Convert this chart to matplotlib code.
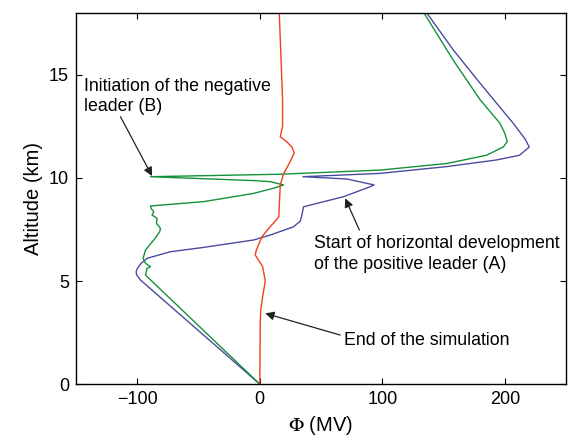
import matplotlib
matplotlib.use("Agg")
import matplotlib.pyplot as plt

plt.rcParams['font.family'] = ['Liberation Sans', 'DejaVu Sans']
plt.rcParams['mathtext.fontset'] = 'stix'

# Red: end of the simulation
red_x = [0, 0.2, 0.4, 0.8, 2.5, 4.5, 2.3, -3.7, -2.8, 1.8, 8.0, 15.5, 16.1, 16.7,
         19.4, 24, 28.1, 26.2, 22.1, 16.7, 18.6, 18.6, 17.5, 15.9]
red_y = [0, 1.5, 3.0, 3.6, 4.3, 5.0, 5.7, 6.26, 6.5, 7.15, 7.6, 8.1, 8.9, 9.65,
         10.2, 10.7, 11.2, 11.5, 11.75, 12.0, 12.5, 13.8, 15.5, 18.0]

# Blue: start of horizontal development of the positive leader (A)
blue_x = [0, -97.4, -100.5, -100.9, -100, -97, -92, -73, -46, -5, 8.6, 27.5, 33,
          34.4, 35.7, 68.3, 90, 93.3, 71, 35.2, 98, 152.6, 193, 212, 219.9, 216.4,
          206.8, 179.7, 158, 136.3]
blue_y = [0, 5.05, 5.3, 5.45, 5.6, 5.85, 6.1, 6.42, 6.63, 6.99, 7.23, 7.63, 7.9,
          8.2, 8.6, 9.09, 9.57, 9.66, 9.95, 10.06, 10.22, 10.55, 10.87, 11.1, 11.5,
          11.9, 12.65, 14.6, 16.2, 18.0]

# Green: initiation of the negative leader (B)
green_x = [0, -93.3, -92, -89.2, -93.3, -95.2, -93.3, -86.5, -81.7, -81, -84.4,
           -83.8, -87.9, -86.5, -88.7, -89.2, -45.8, -5, 11.2, 19.4, 8.6, -5,
           -89.2, 16.7, 98.2, 152.6, 185, 198.7, 202, 200, 196, 179.7, 158, 134]
green_y = [0, 5.29, 5.61, 5.69, 5.86, 6.1, 6.5, 6.99, 7.39, 7.55, 7.8, 8.04, 8.2,
           8.36, 8.52, 8.64, 8.85, 9.25, 9.5, 9.66, 9.82, 9.87, 10.06, 10.18, 10.38,
           10.7, 11.1, 11.5, 11.76, 12.16, 12.65, 13.8, 15.7, 18.0]

x_ticks = [-100, 0, 100, 200]
y_ticks = [0, 5, 10, 15]

fig = plt.figure(figsize=(5.73, 4.40), dpi=100)
ax = fig.add_axes([0.1326, 0.127, 0.988 - 0.1326, 0.9705 - 0.127])

ax.plot(blue_x, blue_y, color='#4b4ba0', lw=1.0)
ax.plot(green_x, green_y, color='#14913a', lw=1.0)
ax.plot(red_x, red_y, color='#f0401c', lw=1.0)

ax.set_xlim(-150, 250)
ax.set_ylim(0, 18)
ax.set_xticks(x_ticks)
ax.set_yticks(y_ticks)
ax.tick_params(direction='in', top=True, right=True, length=4, width=0.8,
               labelsize=13, pad=5)
for s in ax.spines.values():
    s.set_linewidth(1.0)

ax.set_xlabel(r'$\Phi$ (MV)', fontsize=14.5, labelpad=4)
ax.set_ylabel('Altitude (km)', fontsize=14.5, labelpad=4)

arrow = dict(arrowstyle='-|>', color='#222222', lw=0.9, mutation_scale=13,
             shrinkA=0, shrinkB=0)
ax.text(-143.8, 13.95, 'Initiation of the negative\nleader (B)', fontsize=12.8,
        ha='left', va='center', linespacing=1.3)
ax.annotate('', xy=(-87.9, 10.09), xytext=(-113.7, 12.97), arrowprops=arrow)
ax.text(43.9, 6.3, 'Start of horizontal development\nof the positive leader (A)',
        fontsize=12.8, ha='left', va='center', linespacing=1.3)
ax.annotate('', xy=(69.7, 9.01), xytext=(81.3, 7.47), arrowprops=arrow)
ax.text(69.1, 2.13, 'End of the simulation', fontsize=12.8, ha='left', va='center')
ax.annotate('', xy=(4.5, 3.43), xytext=(65.6, 2.38), arrowprops=arrow)

fig.savefig('out.png', dpi=100)
